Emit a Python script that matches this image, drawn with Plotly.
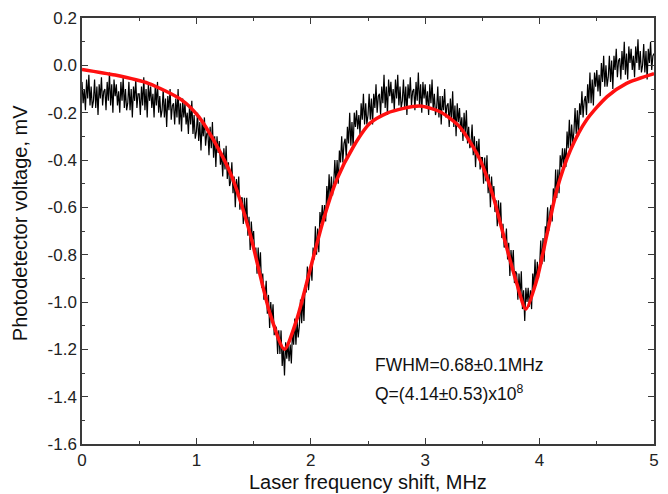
import numpy as np
import plotly.graph_objects as go

# Measured photodetector voltage (mV), sampled every 0.01 MHz from 0 to 5 MHz
signal_mv = [
    -0.07, -0.16, -0.10, -0.19, -0.06, -0.14, -0.04, -0.17, -0.09, -0.18,
    -0.15, -0.06, -0.18, -0.09, -0.21, -0.08, -0.14, -0.05, -0.17, -0.11,
    -0.10, -0.19, -0.07, -0.15, -0.03, -0.17, -0.08, -0.20, -0.06, -0.13,
    -0.08, -0.17, -0.11, -0.20, -0.07, -0.15, -0.05, -0.18, -0.10, -0.19,
    -0.16, -0.07, -0.19, -0.10, -0.22, -0.09, -0.15, -0.06, -0.18, -0.12,
    -0.12, -0.21, -0.09, -0.17, -0.05, -0.19, -0.10, -0.22, -0.08, -0.15,
    -0.09, -0.18, -0.12, -0.22, -0.09, -0.17, -0.07, -0.20, -0.13, -0.22,
    -0.19, -0.10, -0.22, -0.14, -0.26, -0.13, -0.19, -0.10, -0.23, -0.17,
    -0.16, -0.25, -0.14, -0.22, -0.10, -0.25, -0.16, -0.28, -0.14, -0.22,
    -0.16, -0.25, -0.20, -0.29, -0.17, -0.25, -0.15, -0.29, -0.21, -0.31,
    -0.28, -0.20, -0.32, -0.24, -0.36, -0.24, -0.30, -0.22, -0.34, -0.29,
    -0.28, -0.38, -0.26, -0.35, -0.24, -0.39, -0.30, -0.43, -0.30, -0.37,
    -0.32, -0.42, -0.37, -0.47, -0.35, -0.44, -0.34, -0.48, -0.41, -0.51,
    -0.49, -0.41, -0.54, -0.47, -0.60, -0.48, -0.55, -0.47, -0.61, -0.56,
    -0.56, -0.67, -0.56, -0.66, -0.56, -0.72, -0.64, -0.78, -0.66, -0.74,
    -0.70, -0.81, -0.77, -0.88, -0.77, -0.87, -0.79, -0.94, -0.88, -0.99,
    -0.98, -0.91, -1.05, -0.97, -1.11, -1.00, -1.08, -1.01, -1.14, -1.10,
    -1.11, -1.22, -1.12, -1.22, -1.12, -1.27, -1.19, -1.31, -1.17, -1.24,
    -1.17, -1.25, -1.18, -1.26, -1.12, -1.18, -1.07, -1.18, -1.08, -1.15,
    -1.10, -0.99, -1.09, -0.98, -1.08, -0.93, -0.96, -0.85, -0.95, -0.87,
    -0.84, -0.91, -0.77, -0.82, -0.68, -0.80, -0.69, -0.79, -0.62, -0.67,
    -0.59, -0.66, -0.59, -0.66, -0.51, -0.58, -0.46, -0.57, -0.47, -0.55,
    -0.50, -0.40, -0.50, -0.40, -0.50, -0.36, -0.41, -0.30, -0.41, -0.33,
    -0.31, -0.39, -0.26, -0.33, -0.20, -0.34, -0.24, -0.35, -0.20, -0.26,
    -0.19, -0.27, -0.21, -0.29, -0.16, -0.23, -0.12, -0.25, -0.16, -0.25,
    -0.21, -0.12, -0.23, -0.14, -0.25, -0.12, -0.18, -0.08, -0.20, -0.13,
    -0.12, -0.21, -0.09, -0.16, -0.04, -0.18, -0.09, -0.21, -0.06, -0.13,
    -0.07, -0.16, -0.10, -0.19, -0.06, -0.14, -0.04, -0.17, -0.09, -0.18,
    -0.15, -0.06, -0.18, -0.09, -0.21, -0.08, -0.14, -0.05, -0.17, -0.11,
    -0.10, -0.19, -0.07, -0.15, -0.03, -0.17, -0.08, -0.20, -0.07, -0.14,
    -0.08, -0.17, -0.11, -0.21, -0.08, -0.16, -0.06, -0.19, -0.12, -0.21,
    -0.18, -0.09, -0.22, -0.13, -0.25, -0.13, -0.19, -0.10, -0.22, -0.17,
    -0.16, -0.26, -0.14, -0.23, -0.11, -0.26, -0.17, -0.30, -0.16, -0.24,
    -0.18, -0.28, -0.22, -0.32, -0.20, -0.29, -0.19, -0.33, -0.26, -0.35,
    -0.33, -0.25, -0.38, -0.30, -0.43, -0.32, -0.39, -0.31, -0.44, -0.39,
    -0.39, -0.50, -0.39, -0.49, -0.38, -0.54, -0.46, -0.60, -0.47, -0.56,
    -0.51, -0.62, -0.57, -0.68, -0.57, -0.67, -0.58, -0.73, -0.67, -0.77,
    -0.76, -0.69, -0.82, -0.75, -0.89, -0.78, -0.85, -0.78, -0.92, -0.87,
    -0.88, -0.99, -0.88, -0.98, -0.87, -1.03, -0.95, -1.08, -0.94, -1.00,
    -0.94, -1.02, -0.95, -1.03, -0.88, -0.94, -0.82, -0.93, -0.83, -0.90,
    -0.85, -0.74, -0.84, -0.73, -0.83, -0.68, -0.71, -0.60, -0.70, -0.62,
    -0.59, -0.66, -0.52, -0.58, -0.44, -0.56, -0.44, -0.54, -0.38, -0.43,
    -0.35, -0.43, -0.35, -0.43, -0.28, -0.35, -0.23, -0.35, -0.25, -0.33,
    -0.28, -0.18, -0.29, -0.19, -0.30, -0.16, -0.21, -0.11, -0.22, -0.15,
    -0.13, -0.21, -0.08, -0.16, -0.03, -0.16, -0.06, -0.17, -0.03, -0.09,
    -0.02, -0.11, -0.04, -0.13, 0.01, -0.07, 0.04, -0.09, 0.00, -0.09,
    -0.05, 0.04, -0.07, 0.02, -0.10, 0.04, -0.02, 0.07, -0.05, 0.02,
    0.03, -0.06, 0.06, -0.02, 0.10, -0.04, 0.05, -0.06, 0.08, 0.01,
    0.07, -0.02, 0.04, -0.05, 0.08, 0.01, 0.11, -0.02, 0.06, -0.03,
    0.00, 0.09, -0.03, 0.06, -0.06, 0.07, 0.01, 0.10, -0.02, 0.04,
    0.05,
]
signal_mhz = np.linspace(0.0, 5.0, len(signal_mv))

# Two-Lorentzian fit curve
fit_mhz = [0.0, 0.29, 0.58, 0.87, 1.02, 1.165, 1.31, 1.457, 1.643, 1.769,
           1.876, 1.993, 2.11, 2.226, 2.372, 2.517, 2.663, 2.81, 2.955, 3.13,
           3.30, 3.48, 3.595, 3.71, 3.80, 3.88, 3.975, 4.06, 4.15, 4.27,
           4.41, 4.59, 4.76, 5.0]
fit_mv = [-0.017, -0.041, -0.076, -0.146, -0.217, -0.329, -0.47, -0.69, -1.048, -1.2,
          -1.076, -0.865, -0.653, -0.484, -0.344, -0.245, -0.203, -0.182, -0.172, -0.196,
          -0.259, -0.40, -0.555, -0.766, -0.921, -1.03, -0.907, -0.724, -0.527, -0.358,
          -0.231, -0.132, -0.076, -0.035]

x_tick_vals = [0, 1, 2, 3, 4, 5]
x_tick_text = ["0", "1", "2", "3", "4", "5"]
y_tick_vals = [0.2, 0.0, -0.2, -0.4, -0.6, -0.8, -1.0, -1.2, -1.4, -1.6]
y_tick_text = ["0.2", "0.0", "-0.2", "-0.4", "-0.6", "-0.8", "-1.0", "-1.2", "-1.4", "-1.6"]

x_title = "Laser frequency shift, MHz"
y_title = "Photodetector voltage, mV"
fwhm_text = "FWHM=0.68±0.1MHz"
q_text = "Q=(4.14±0.53)x10<sup>8</sup>"

FONT = "Liberation Sans, Arial, sans-serif"
AXIS_COLOR = "#3a3a3a"

fig = go.Figure()
fig.add_trace(go.Scatter(x=signal_mhz, y=signal_mv, mode="lines",
                         line=dict(color="black", width=1.2),
                         showlegend=False, hoverinfo="skip"))
fig.add_trace(go.Scatter(x=fit_mhz, y=fit_mv, mode="lines",
                         line=dict(color="#ff1010", width=3.5, shape="spline", smoothing=0.7),
                         showlegend=False))

axis_common = dict(showline=True, linecolor=AXIS_COLOR, linewidth=1.5, mirror="ticks",
                   ticks="inside", ticklen=6, tickwidth=1.3, tickcolor=AXIS_COLOR,
                   showgrid=False, zeroline=False,
                   tickfont=dict(family=FONT, size=17, color="#222"))

fig.update_xaxes(range=[0, 5], tickvals=x_tick_vals, ticktext=x_tick_text,
                 minor=dict(ticks="inside", ticklen=3, dtick=0.5, tick0=0, tickcolor=AXIS_COLOR),
                 **axis_common)
fig.update_yaxes(range=[-1.6, 0.2], tickvals=y_tick_vals, ticktext=y_tick_text,
                 minor=dict(ticks="inside", ticklen=3, dtick=0.1, tick0=0, tickcolor=AXIS_COLOR),
                 **axis_common)

# Axis titles placed as paper-anchored annotations for precise positioning
fig.add_annotation(x=0.5, y=-0.089, xref="paper", yref="paper", text=x_title,
                   showarrow=False, xanchor="center", yanchor="middle",
                   font=dict(family=FONT, size=20, color="#111"))
fig.add_annotation(x=-0.107, y=0.518, xref="paper", yref="paper", text=y_title,
                   showarrow=False, xanchor="center", yanchor="middle", textangle=-90,
                   font=dict(family=FONT, size=20, color="#111"))

fig.add_annotation(x=2.544, y=-1.266, xref="x", yref="y", text=fwhm_text,
                   showarrow=False, xanchor="left", yanchor="middle",
                   font=dict(family=FONT, size=17.5, color="#111"))
fig.add_annotation(x=2.544, y=-1.384, xref="x", yref="y", text=q_text,
                   showarrow=False, xanchor="left", yanchor="middle",
                   font=dict(family=FONT, size=17.5, color="#111"))

# The page body has an 8px margin, so the figure is offset by 8px in the window
fig.update_layout(width=652, height=486, plot_bgcolor="white", paper_bgcolor="white",
                  margin=dict(l=74, r=6, t=10, b=50, autoexpand=False))

fig.write_html("out.html")
